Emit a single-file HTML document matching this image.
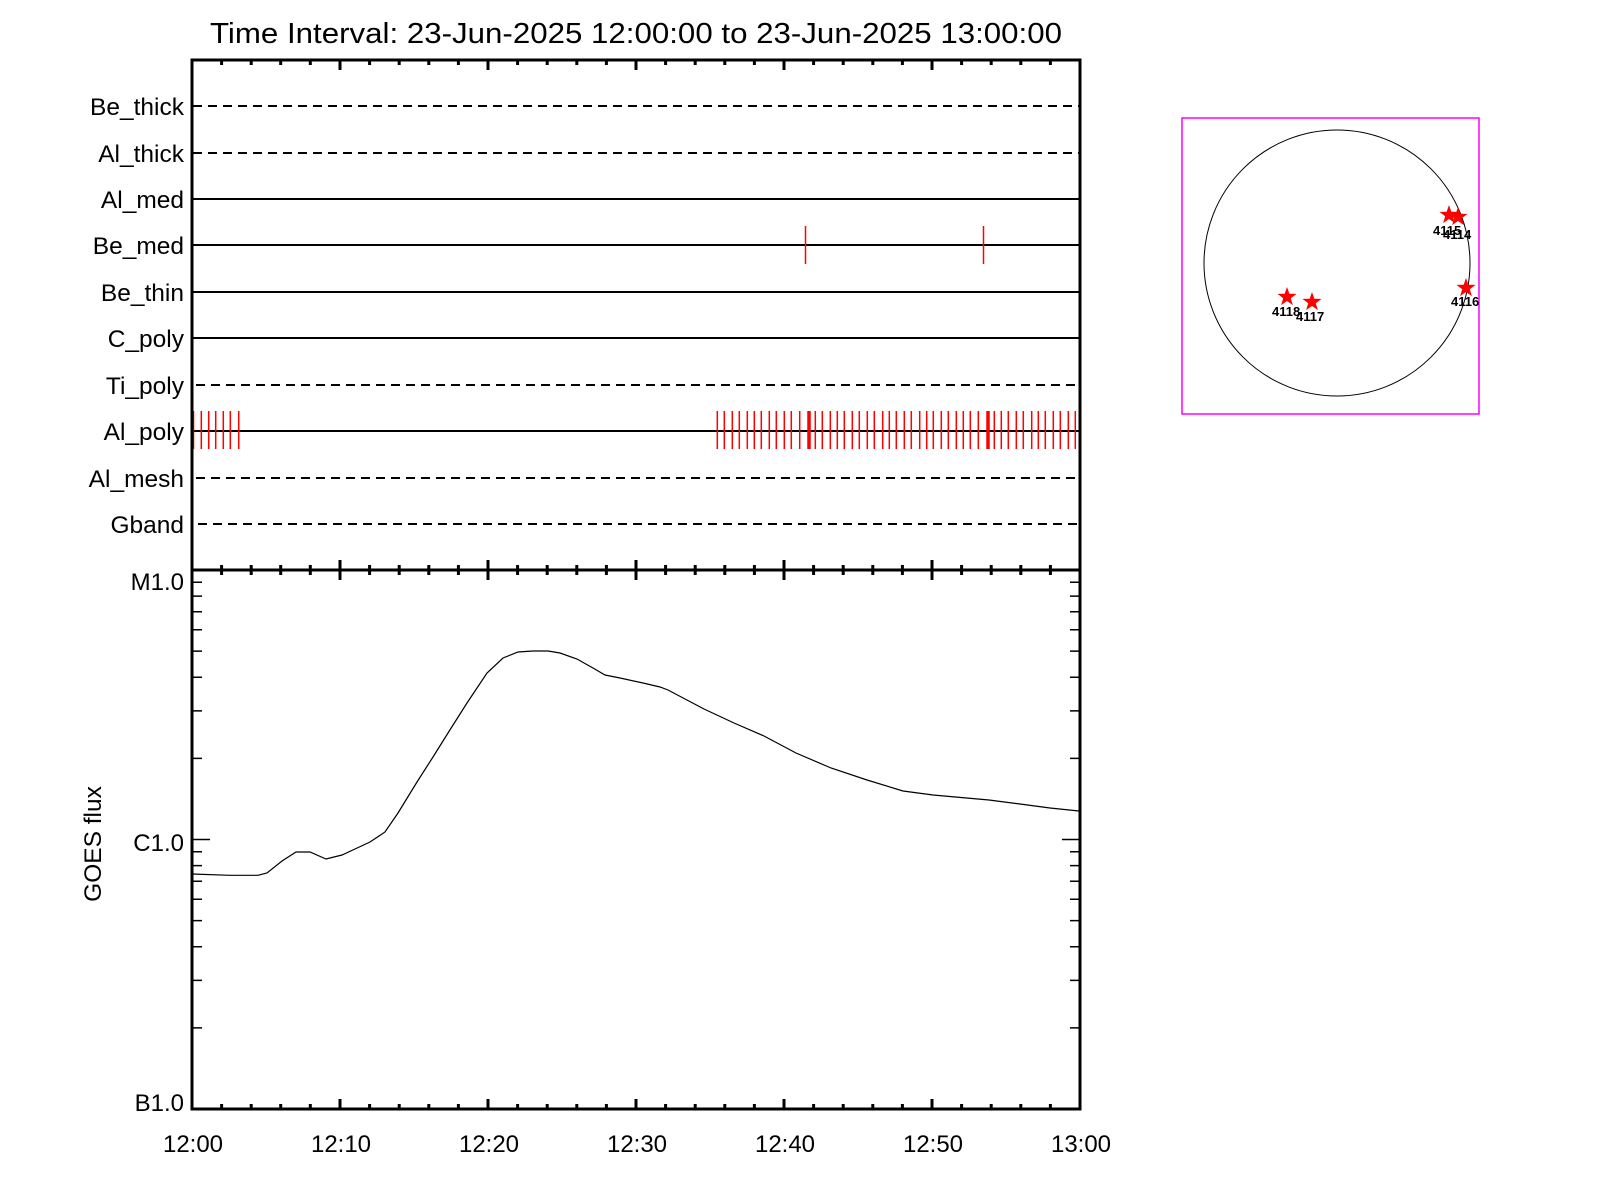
<!DOCTYPE html>
<html><head><meta charset="utf-8"><style>html,body{margin:0;padding:0;background:#fff}svg{display:block}</style></head>
<body>
<svg width="1600" height="1200" viewBox="0 0 1600 1200" xmlns="http://www.w3.org/2000/svg" font-family="Liberation Sans, sans-serif">
<defs>
<polygon id="st" points="0,-10 2.35,-3.24 9.51,-3.09 3.8,1.24 5.88,8.09 0,4 -5.88,8.09 -3.8,1.24 -9.51,-3.09 -2.35,-3.24" fill="#ff0000"/>
</defs>
<text x="636" y="43" font-size="29" text-anchor="middle" textLength="852" lengthAdjust="spacingAndGlyphs">Time Interval: 23-Jun-2025 12:00:00 to 23-Jun-2025 13:00:00</text>
<g font-size="24.5" text-anchor="end">
<text x="184" y="115">Be_thick</text>
<text x="184" y="162">Al_thick</text>
<text x="184" y="208">Al_med</text>
<text x="184" y="254">Be_med</text>
<text x="184" y="301">Be_thin</text>
<text x="184" y="347">C_poly</text>
<text x="184" y="394">Ti_poly</text>
<text x="184" y="440">Al_poly</text>
<text x="184" y="487">Al_mesh</text>
<text x="184" y="533">Gband</text>
</g>
<g stroke="#000" stroke-width="2">
<line x1="193" y1="106" x2="1079" y2="106" stroke-dasharray="9,6"/>
<line x1="193" y1="153" x2="1079" y2="153" stroke-dasharray="9,6"/>
<line x1="193" y1="199" x2="1079" y2="199"/>
<line x1="193" y1="245" x2="1079" y2="245"/>
<line x1="193" y1="292" x2="1079" y2="292"/>
<line x1="193" y1="338" x2="1079" y2="338"/>
<line x1="196" y1="385" x2="1079" y2="385" stroke-dasharray="9,6"/>
<line x1="193" y1="431" x2="1079" y2="431"/>
<line x1="196" y1="478" x2="1079" y2="478" stroke-dasharray="9,6"/>
<line x1="198" y1="524" x2="1079" y2="524" stroke-dasharray="9,6"/>
</g>
<g stroke="#ff0000" stroke-width="1.5">
<line x1="805.5" y1="226" x2="805.5" y2="264"/>
<line x1="983.5" y1="226" x2="983.5" y2="264"/>
<path d="M193.5,411V449M201.3,411V449M208.7,411V449M215.7,411V449M223.3,411V449M230.3,411V449M238.7,411V449M717.3,411V449M724.3,411V449M732.3,411V449M739.3,411V449M747.3,411V449M754.3,411V449M761.3,411V449M769.3,411V449M776.3,411V449M784.3,411V449M791.3,411V449M799.7,411V449M815.3,411V449M822.3,411V449M830.3,411V449M837.3,411V449M844.3,411V449M852.3,411V449M859.3,411V449M867.3,411V449M874.3,411V449M882.7,411V449M889.3,411V449M896.3,411V449M904.3,411V449M911.3,411V449M919.7,411V449M926.7,411V449M933.3,411V449M941.3,411V449M948.3,411V449M956.3,411V449M963.3,411V449M970.3,411V449M978.3,411V449M994.3,411V449M1001.3,411V449M1008.3,411V449M1016.3,411V449M1023.3,411V449M1031.7,411V449M1038.3,411V449M1045.3,411V449M1053.3,411V449M1060.3,411V449M1068.3,411V449M1075.3,411V449"/>
<path d="M809,411V449M988,411V449" stroke-width="3.5"/>
</g>
<g stroke="#000" stroke-width="3" fill="none">
<path d="M192,60H1080V1109H192Z"/>
<line x1="192" y1="570" x2="1080" y2="570"/>
</g>
<g stroke="#000" stroke-width="3">
<path d="M192,60v10M340,60v10M488,60v10M636,60v10M784,60v10M932,60v10M1080,60v10"/>
<path d="M221.6,60v5M251.2,60v5M280.7,60v5M310.3,60v5M369.6,60v5M399.2,60v5M428.8,60v5M458.4,60v5M517.6,60v5M547.2,60v5M576.8,60v5M606.4,60v5M665.6,60v5M695.2,60v5M724.8,60v5M754.4,60v5M813.6,60v5M843.2,60v5M872.8,60v5M902.4,60v5M961.6,60v5M991.2,60v5M1020.8,60v5M1050.4,60v5"/>
<path d="M192,560v20M340,560v20M488,560v20M636,560v20M784,560v20M932,560v20M1080,560v20"/>
<path d="M221.6,565v10M251.2,565v10M280.7,565v10M310.3,565v10M369.6,565v10M399.2,565v10M428.8,565v10M458.4,565v10M517.6,565v10M547.2,565v10M576.8,565v10M606.4,565v10M665.6,565v10M695.2,565v10M724.8,565v10M754.4,565v10M813.6,565v10M843.2,565v10M872.8,565v10M902.4,565v10M961.6,565v10M991.2,565v10M1020.8,565v10M1050.4,565v10"/>
<path d="M192,1109v-10M340,1109v-10M488,1109v-10M636,1109v-10M784,1109v-10M932,1109v-10M1080,1109v-10"/>
<path d="M221.6,1109v-5M251.2,1109v-5M280.7,1109v-5M310.3,1109v-5M369.6,1109v-5M399.2,1109v-5M428.8,1109v-5M458.4,1109v-5M517.6,1109v-5M547.2,1109v-5M576.8,1109v-5M606.4,1109v-5M665.6,1109v-5M695.2,1109v-5M724.8,1109v-5M754.4,1109v-5M813.6,1109v-5M843.2,1109v-5M872.8,1109v-5M902.4,1109v-5M961.6,1109v-5M991.2,1109v-5M1020.8,1109v-5M1050.4,1109v-5"/>
</g>
<g stroke="#000" stroke-width="1.5">
<path d="M192,582.3h10M192,596.1h10M192,611.7h10M192,629.8h10M192,651.1h10M192,677.2h10M192,710.9h10M192,758.4h10M192,839.5h18M192,851.8h10M192,865.6h10M192,881.2h10M192,899.3h10M192,920.6h10M192,946.7h10M192,980.4h10M192,1027.9h10"/>
<path d="M1080,582.3h-10M1080,596.1h-10M1080,611.7h-10M1080,629.8h-10M1080,651.1h-10M1080,677.2h-10M1080,710.9h-10M1080,758.4h-10M1080,839.5h-18M1080,851.8h-10M1080,865.6h-10M1080,881.2h-10M1080,899.3h-10M1080,920.6h-10M1080,946.7h-10M1080,980.4h-10M1080,1027.9h-10"/>
</g>
<g font-size="24" text-anchor="end">
<text x="184" y="590">M1.0</text>
<text x="184" y="851">C1.0</text>
<text x="184" y="1111">B1.0</text>
</g>
<text transform="translate(101,844) rotate(-90)" font-size="24.5" text-anchor="middle">GOES flux</text>
<g font-size="24" text-anchor="middle">
<text x="193" y="1152">12:00</text>
<text x="341" y="1152">12:10</text>
<text x="489" y="1152">12:20</text>
<text x="637" y="1152">12:30</text>
<text x="785" y="1152">12:40</text>
<text x="933" y="1152">12:50</text>
<text x="1081" y="1152">13:00</text>
</g>
<polyline fill="none" stroke="#000" stroke-width="1.2" points="192,874 230,875.3 258,875.3 267,873 282,861 296,852 310,852 326,859 342,855 355,849 370,842 385,832 398,813 417,782 433,757 448,733 467,703 487,673 503,658 518,652 533,651 548,651 560,653 577,659 593,668 605,675 620,678 643,683 660,687 668,690 704,709 734,723 764,736 796,753 831,768 867,780 903,791 933,795 989,800 1020,804 1050,808 1079,811"/>
<rect x="1182" y="118" width="297" height="296" fill="none" stroke="#ff00ff" stroke-width="1.5"/>
<circle cx="1337" cy="263" r="133" fill="none" stroke="#000" stroke-width="1"/>
<use href="#st" x="1449" y="215"/>
<use href="#st" x="1458" y="217"/>
<use href="#st" x="1466" y="288"/>
<use href="#st" x="1287" y="297"/>
<use href="#st" x="1312" y="302"/>
<g font-size="13" font-weight="bold">
<text x="1433" y="235">4115</text>
<text x="1443" y="239">4114</text>
<text x="1451" y="306">4116</text>
<text x="1272" y="316">4118</text>
<text x="1296" y="321">4117</text>
</g>
</svg>
</body></html>
